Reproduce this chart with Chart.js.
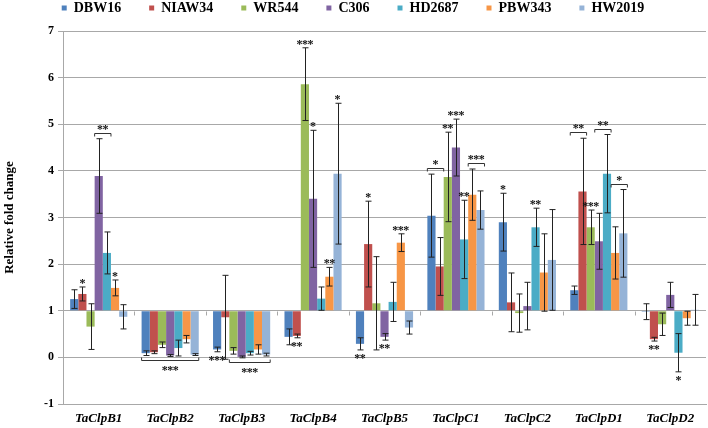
<!DOCTYPE html>
<html>
<head>
<meta charset="utf-8">
<script src="https://cdn.jsdelivr.net/npm/chart.js@4.4.0/dist/chart.umd.min.js"></script>
<style>
  html, body { margin: 0; padding: 0; background: #fff; }
</style>
</head>
<body>
<canvas id="foldChart" width="708" height="428"></canvas>
<script>
// ---------------------------------------- data ----------------------------------------
const genes = ['TaClpB1', 'TaClpB2', 'TaClpB3', 'TaClpB4', 'TaClpB5', 'TaClpC1', 'TaClpC2', 'TaClpD1', 'TaClpD2'];
const cultivars = ['DBW16', 'NIAW34', 'WR544', 'C306', 'HD2687', 'PBW343', 'HW2019'];
const yTicks = [-1, 0, 1, 2, 3, 4, 5, 6, 7];

const dbw16  = [1.25, 0.09, 0.17, 0.44, 0.29, 3.04, 2.90, 1.44, 0.98];
const niaw34 = [1.36, 0.11, 0.86, 0.46, 2.43, 1.95, 1.18, 3.56, 0.39];
const wr544  = [0.66, 0.27, 0.14, 5.86, 1.16, 3.87, 0.95, 2.79, 0.71];
const c306   = [3.89, 0.04, 0.01, 3.40, 0.44, 4.50, 1.10, 2.49, 1.34];
const hd2687 = [2.24, 0.20, 0.09, 1.26, 1.19, 2.53, 2.79, 3.94, 0.10];
const pbw343 = [1.49, 0.39, 0.17, 1.73, 2.46, 3.49, 1.82, 2.24, 0.84];
const hw2019 = [0.87, 0.06, 0.06, 3.94, 0.64, 3.16, 2.09, 2.66, 1.02];

// standard errors (+/-)
const dbw16Err  = [0.20, 0.05, 0.05, 0.17, 0.13, 0.89, 0.62, 0.09, 0.17];
const niaw34Err = [0.15, 0.03, 0.90, 0.04, 0.92, 0.62, 0.63, 1.14, 0.04];
const wr544Err  = [0.49, 0.06, 0.07, 0.78, 1.00, 0.96, 0.41, 0.37, 0.24];
const c306Err   = [0.80, 0.02, 0.02, 1.47, 0.07, 0.61, 0.51, 0.60, 0.27];
const hd2687Err = [0.45, 0.17, 0.04, 0.25, 0.42, 0.84, 0.41, 0.84, 0.41];
const pbw343Err = [0.17, 0.08, 0.10, 0.20, 0.19, 0.55, 0.83, 0.56, 0.15];
const hw2019Err = [0.26, 0.02, 0.03, 1.51, 0.14, 0.41, 1.08, 0.94, 0.33];

// significance marks on single bars
const dbw16Sig  = ['', '', '***', '', '**', '', '*', '', ''];
const niaw34Sig = ['*', '', '', '**', '*', '', '', '', '**'];
const wr544Sig  = ['', '', '', '***', '', '**', '', '***', ''];
const c306Sig   = ['', '', '', '*', '**', '***', '', '', ''];
const hd2687Sig = ['', '', '', '', '', '**', '**', '', '*'];
const pbw343Sig = ['*', '', '', '**', '***', '', '', '', ''];
const hw2019Sig = ['', '', '', '*', '', '', '', '', ''];

// brackets: [gene index, first cultivar, last cultivar, mark, side]
const brackets = [
    [0, 3, 4, '**', 'top'],
    [1, 0, 6, '***', 'bottom'],
    [2, 2, 6, '***', 'bottom'],
    [5, 0, 1, '*', 'top'],
    [5, 5, 6, '***', 'top'],
    [7, 0, 1, '**', 'top'],
    [7, 3, 4, '**', 'top'],
    [7, 5, 6, '*', 'top']
];

const values = [dbw16, niaw34, wr544, c306, hd2687, pbw343, hw2019];
const errors = [dbw16Err, niaw34Err, wr544Err, c306Err, hd2687Err, pbw343Err, hw2019Err];
const marks = [dbw16Sig, niaw34Sig, wr544Sig, c306Sig, hd2687Sig, pbw343Sig, hw2019Sig];
const barColors = ['#4F81BD', '#C0504D', '#9BBB59', '#8064A2', '#4BACC6', '#F79646', '#95B3D7'];

const gridColor = '#a8a8a8';
const serif = "'Liberation Serif', 'Times New Roman', serif";

// ---------------------------------------- error bars + stars ----------------------------------------
function drawStars(ctx, text, x, cy) {
    const gap = 5.5;
    for (let k = 0; k < text.length; k++) {
        ctx.fillText('*', x + (k - (text.length - 1) / 2) * gap, cy + 2);
    }
}

const errorBarPlugin = {
    id: 'errorBars',
    afterDatasetsDraw(chart) {
        const ctx = chart.ctx;
        const y = chart.scales.y;
        const area = chart.chartArea;
        ctx.save();

        // little category ticks on the baseline (axis crosses at 1)
        const base = Math.round(y.getPixelForValue(1)) + 0.5;
        const step = (area.right - area.left) / genes.length;
        ctx.strokeStyle = gridColor;
        ctx.lineWidth = 1;
        for (let i = 1; i < genes.length; i++) {
            const tx = Math.round(area.left + i * step) + 0.5;
            ctx.beginPath();
            ctx.moveTo(tx, base);
            ctx.lineTo(tx, base + 4);
            ctx.stroke();
        }

        ctx.fillStyle = '#111';
        ctx.font = 'bold 12px ' + serif;
        ctx.textAlign = 'center';
        ctx.textBaseline = 'middle';

        chart.data.datasets.forEach((ds, d) => {
            const meta = chart.getDatasetMeta(d);
            meta.data.forEach((bar, i) => {
                const v = values[d][i], e = errors[d][i];
                const top = y.getPixelForValue(v + e);
                const bot = y.getPixelForValue(v - e);
                const bx = Math.round(bar.x) + 0.5;
                ctx.strokeStyle = '#222';
                ctx.beginPath();
                ctx.moveTo(bx, top);
                ctx.lineTo(bx, bot);
                ctx.moveTo(bx - 3, top);
                ctx.lineTo(bx + 3, top);
                ctx.moveTo(bx - 3, bot);
                ctx.lineTo(bx + 3, bot);
                ctx.stroke();

                const m = marks[d][i];
                if (m) {
                    if (v >= 1) drawStars(ctx, m, bar.x, top - 5);
                    else drawStars(ctx, m, bar.x, bot + 7);
                }
            });
        });

        // brackets grouping two or more bars
        brackets.forEach(([g, a, b, m, side]) => {
            const barA = chart.getDatasetMeta(a).data[g];
            const barB = chart.getDatasetMeta(b).data[g];
            const x1 = barA.x - barA.width / 2, x2 = barB.x + barB.width / 2;
            let yb;
            ctx.strokeStyle = '#333';
            ctx.beginPath();
            if (side === 'top') {
                let hi = Infinity;
                for (let d = a; d <= b; d++) hi = Math.min(hi, y.getPixelForValue(values[d][g] + errors[d][g]));
                yb = Math.round(hi - 6) + 0.5;
                ctx.moveTo(x1, yb + 3); ctx.lineTo(x1, yb); ctx.lineTo(x2, yb); ctx.lineTo(x2, yb + 3);
                ctx.stroke();
                drawStars(ctx, m, (x1 + x2) / 2, yb - 6);
            } else {
                let lo = -Infinity;
                for (let d = a; d <= b; d++) lo = Math.max(lo, y.getPixelForValue(values[d][g] - errors[d][g]));
                yb = Math.round(lo + 4) + 0.5;
                ctx.moveTo(x1, yb - 3); ctx.lineTo(x1, yb); ctx.lineTo(x2, yb); ctx.lineTo(x2, yb - 3);
                ctx.stroke();
                drawStars(ctx, m, (x1 + x2) / 2, yb + 8);
            }
        });
        ctx.restore();
    }
};

// ---------------------------------------- chart ----------------------------------------
new Chart('foldChart', {
    type: 'bar',
    data: {
        labels: genes,
        datasets: cultivars.map((name, d) => ({
            label: name,
            data: values[d],
            base: 1,
            backgroundColor: barColors[d],
            borderWidth: 0,
            categoryPercentage: 0.8,
            barPercentage: 1.0
        }))
    },
    options: {
        responsive: false,
        animation: false,
        layout: { padding: { top: -27, left: 0, right: 2, bottom: 0 } },
        plugins: {
            legend: {
                position: 'top',
                labels: {
                    boxWidth: 5,
                    boxHeight: 5,
                    padding: 28,
                    color: '#000',
                    font: { family: serif, size: 14, weight: 'bold' }
                }
            },
            // empty spacer between legend and plot
            subtitle: {
                display: true,
                text: '',
                weight: 500,
                padding: 0,
                font: { size: 5 }
            },
            tooltip: { enabled: false }
        },
        scales: {
            x: {
                grid: { display: false, drawTicks: false },
                border: { display: true, color: gridColor },
                ticks: {
                    color: '#000',
                    padding: 7,
                    font: { family: serif, size: 13, weight: 'bold', style: 'italic' }
                },
                afterFit(scale) {
                    scale.height = 24;
                    scale.paddingLeft = 0;
                    scale.paddingRight = 0;
                }
            },
            y: {
                min: yTicks[0],
                max: yTicks[yTicks.length - 1],
                afterBuildTicks(scale) {
                    scale.ticks = yTicks.map(v => ({ value: v }));
                },
                grid: { color: gridColor, tickLength: 5, drawTicks: true },
                border: { display: true, color: gridColor },
                ticks: {
                    color: '#000',
                    padding: 4,
                    font: { family: serif, size: 12, weight: 'bold' }
                },
                title: {
                    display: true,
                    text: 'Relative fold change',
                    color: '#000',
                    padding: { top: 2, bottom: 0 },
                    font: { family: serif, size: 13, weight: 'bold' }
                },
                afterFit(scale) {
                    scale.width = 63;
                }
            }
        }
    },
    plugins: [errorBarPlugin]
});
</script>
</body>
</html>
